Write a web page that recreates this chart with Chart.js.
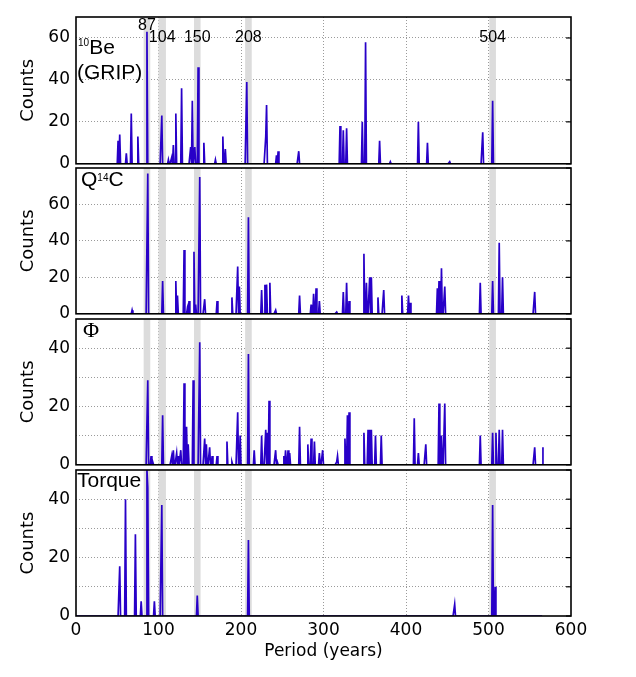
<!DOCTYPE html>
<html>
<head>
<meta charset="utf-8">
<script src="https://cdn.jsdelivr.net/npm/chart.js@4.4.1/dist/chart.umd.min.js"></script>
<style>
  body { margin: 0; background: #fff; }
  #wrap { position: relative; width: 636px; height: 677px; overflow: hidden; font-family: "Liberation Sans", Arial, sans-serif; }
  canvas { position: absolute; left: 0; }
  .lbl { position: absolute; font-size: 21px; line-height: 21px; color: #000; white-space: nowrap; }
  .sup { font-size: 10px; position: relative; }
</style>
</head>
<body>
<div id="wrap">
  <canvas id="c1" width="636" height="180" style="top:0px"></canvas>
  <canvas id="c2" width="636" height="180" style="top:150px"></canvas>
  <canvas id="c3" width="636" height="180" style="top:301px"></canvas>
  <canvas id="c4" width="636" height="225" style="top:452px"></canvas>
  <div class="lbl" style="left:78px;top:36px"><span class="sup" style="top:-8px">10</span>Be</div>
  <div class="lbl" style="left:77px;top:61px">(GRIP)</div>
  <div class="lbl" style="left:81px;top:168px">Q<span class="sup" style="top:-5px">14</span>C</div>
  <div class="lbl" style="left:83px;top:319px;font-family:'Liberation Serif',serif;font-size:22px">Φ</div>
  <div class="lbl" style="left:77px;top:469px">Torque</div>
</div>
<script>
// spectral peaks (period in years, counts)
const beYears  = [51, 53, 61, 67, 75, 86, 104, 112, 116, 118, 121, 128, 139, 141, 144, 148, 155, 169, 178, 181, 207, 230, 231, 243, 245, 270, 320, 324, 328, 347, 351, 368, 381, 415, 426, 453, 493, 505];
const beCounts = [11, 14, 5, 24, 13, 63, 23, 2, 3, 9, 24, 36, 8, 30, 8, 46, 10, 2, 13, 7, 39, 13, 28, 4, 6, 6, 18, 16, 17, 20, 58, 11, 1, 20, 10, 1, 15, 30];

const qYears  = [68, 87, 105, 121, 123, 131, 135, 137, 143, 145, 150, 156, 171, 189, 196, 198, 209, 225, 229, 231, 235, 242, 271, 285, 288, 291, 295, 316, 324, 328, 331, 349, 352, 356, 358, 366, 373, 395, 403, 405, 438, 440, 443, 447, 490, 505, 513, 517, 556];
const qCounts = [2, 77, 18, 18, 10, 35, 3, 7, 34, 5, 75, 8, 7, 9, 26, 15, 53, 13, 16, 16, 17, 2, 10, 5, 11, 14, 7, 1, 12, 17, 7, 33, 17, 20, 20, 9, 13, 10, 10, 6, 14, 18, 25, 15, 17, 18, 39, 20, 12];

const phiYears  = [87, 91, 93, 105, 116, 118, 122, 124, 127, 131, 134, 136, 142, 150, 156, 158, 162, 165, 171, 183, 189, 196, 199, 209, 216, 225, 230, 232, 234, 242, 244, 252, 254, 257, 259, 271, 281, 285, 289, 295, 299, 316, 317, 326, 329, 331, 349, 354, 356, 358, 363, 370, 410, 415, 424, 440, 443, 447, 490, 505, 509, 513, 517, 556, 566];
const phiCounts = [29, 3, 1, 17, 3, 5, 4, 3, 5, 28, 13, 7, 29, 42, 9, 7, 6, 3, 3, 8, 1, 18, 10, 38, 5, 10, 12, 11, 22, 5, 1, 3, 5, 5, 4, 13, 7, 9, 8, 4, 5, 1, 3, 9, 17, 18, 11, 12, 12, 12, 10, 10, 16, 4, 7, 21, 10, 21, 10, 11, 11, 12, 12, 6, 6];

const tqYears  = [53, 60, 72, 79, 86, 87, 95, 104, 147, 209, 459, 505, 508];
const tqCounts = [17, 40, 28, 5, 50, 44, 5, 38, 7, 26, 4, 38, 10];

const yMaxes = [70, 80, 50, 50];
const periodTicks = [0, 100, 200, 300, 400, 500, 600];
const lastPeriod = 566;

// shaded bands and their labels (top panel)
const bandStart  = [82, 100, 143, 205, 501];
const bandEnd    = [90, 109, 151, 213, 509];
const bandLabels = ['87', '104', '150', '208', '504'];

const lineBlue = 'rgb(40, 0, 200)';
const gridGrey = '#9a9a9a';
const tickFont = { family: 'DejaVu Sans', size: 17 };

// one value per year bin, zero where no peak was found
function binSeries(years, counts) {
    const pts = [];
    for (let p = 0; p <= lastPeriod; p++) pts.push({ x: p, y: 0 });
    years.forEach((yr, i) => { pts[yr].y = counts[i]; });
    return pts;
}

const bandsPlugin = {
    id: 'bands',
    beforeDatasetsDraw(chart) {
        const { ctx, chartArea: a, scales: { x } } = chart;
        ctx.save();
        ctx.fillStyle = '#dcdcdc';
        bandStart.forEach((s, i) => {
            const x1 = x.getPixelForValue(s), x2 = x.getPixelForValue(bandEnd[i]);
            ctx.fillRect(x1, a.top, x2 - x1, a.bottom - a.top);
        });
        ctx.restore();
    },
    afterDatasetsDraw(chart, args, opts) {
        if (!opts.labels) return;
        const { ctx, chartArea: a, scales: { x } } = chart;
        ctx.save();
        ctx.fillStyle = '#000';
        ctx.font = '16px "Liberation Sans", Arial, sans-serif';
        ctx.textAlign = 'center';
        ctx.textBaseline = 'alphabetic';
        bandLabels.forEach((t, i) => {
            const cx = x.getPixelForValue((bandStart[i] + bandEnd[i]) / 2);
            ctx.fillText(t, cx, a.top + (i === 0 ? 13 : 25));
        });
        ctx.restore();
    }
};

const framePlugin = {
    id: 'frame',
    afterDraw(chart) {
        const { ctx, chartArea: a, scales: { y } } = chart;
        ctx.save();
        ctx.strokeStyle = '#000';
        ctx.lineWidth = 1.2;
        y.ticks.forEach(t => {
            const py = y.getPixelForValue(t.value);
            ctx.beginPath();
            ctx.moveTo(a.right - 5, py);
            ctx.lineTo(a.right, py);
            ctx.stroke();
        });
        ctx.lineWidth = 1.6;
        ctx.strokeRect(a.left, a.top, a.right - a.left, a.bottom - a.top);
        ctx.restore();
    }
};

function makePanel(id, years, counts, yMax, isBottom, padTop, padBottom, showLabels) {
    return new Chart(document.getElementById(id), {
        type: 'line',
        data: {
            datasets: [{
                data: binSeries(years, counts),
                borderColor: lineBlue,
                borderWidth: 1.7,
                pointRadius: 0,
                tension: 0,
                fill: false
            }]
        },
        options: {
            responsive: false,
            animation: false,
            events: [],
            layout: { padding: { left: 0, right: 65, top: padTop, bottom: padBottom } },
            plugins: {
                legend: { display: false },
                tooltip: { enabled: false },
                bands: { labels: showLabels }
            },
            scales: {
                x: {
                    type: 'linear',
                    min: 0,
                    max: 600,
                    afterBuildTicks: ax => { ax.ticks = periodTicks.map(v => ({ value: v })); },
                    grid: {
                        drawTicks: false,
                        lineWidth: 1,
                        color: c => (c.tick && (c.tick.value === 0 || c.tick.value === 600)) ? 'rgba(0,0,0,0)' : gridGrey
                    },
                    border: { display: false, dash: [1, 2] },
                    ticks: { display: isBottom, padding: 4, color: '#000', font: tickFont, maxRotation: 0 },
                    title: {
                        display: isBottom,
                        text: 'Period (years)',
                        color: '#000',
                        font: { family: 'DejaVu Sans', size: 17 },
                        padding: { top: 0, bottom: 15 }
                    },
                    afterFit: ax => { ax.height = isBottom ? 61 : 0; }
                },
                y: {
                    min: 0,
                    max: yMax,
                    ticks: {
                        stepSize: 10,
                        padding: 6,
                        color: '#000',
                        font: tickFont,
                        callback: v => (v % 20 === 0 && v < yMax) ? v : ''
                    },
                    grid: {
                        drawTicks: false,
                        lineWidth: 1,
                        color: c => (c.tick && (c.tick.value === 0 || c.tick.value === yMax)) ? 'rgba(0,0,0,0)' : gridGrey
                    },
                    border: { display: false, dash: [1, 2] },
                    title: {
                        display: true,
                        text: 'Counts',
                        color: '#000',
                        font: { family: 'DejaVu Sans', size: 18 },
                        padding: { top: 18 }
                    },
                    afterFit: ax => { ax.width = 76; }
                }
            }
        },
        plugins: [bandsPlugin, framePlugin]
    });
}

makePanel('c1', beYears, beCounts, yMaxes[0], false, 17, 16, true);
makePanel('c2', qYears, qCounts, yMaxes[1], false, 18, 16, false);
makePanel('c3', phiYears, phiCounts, yMaxes[2], false, 18, 16, false);
makePanel('c4', tqYears, tqCounts, yMaxes[3], true, 18, 0, false);
</script>
</body>
</html>
